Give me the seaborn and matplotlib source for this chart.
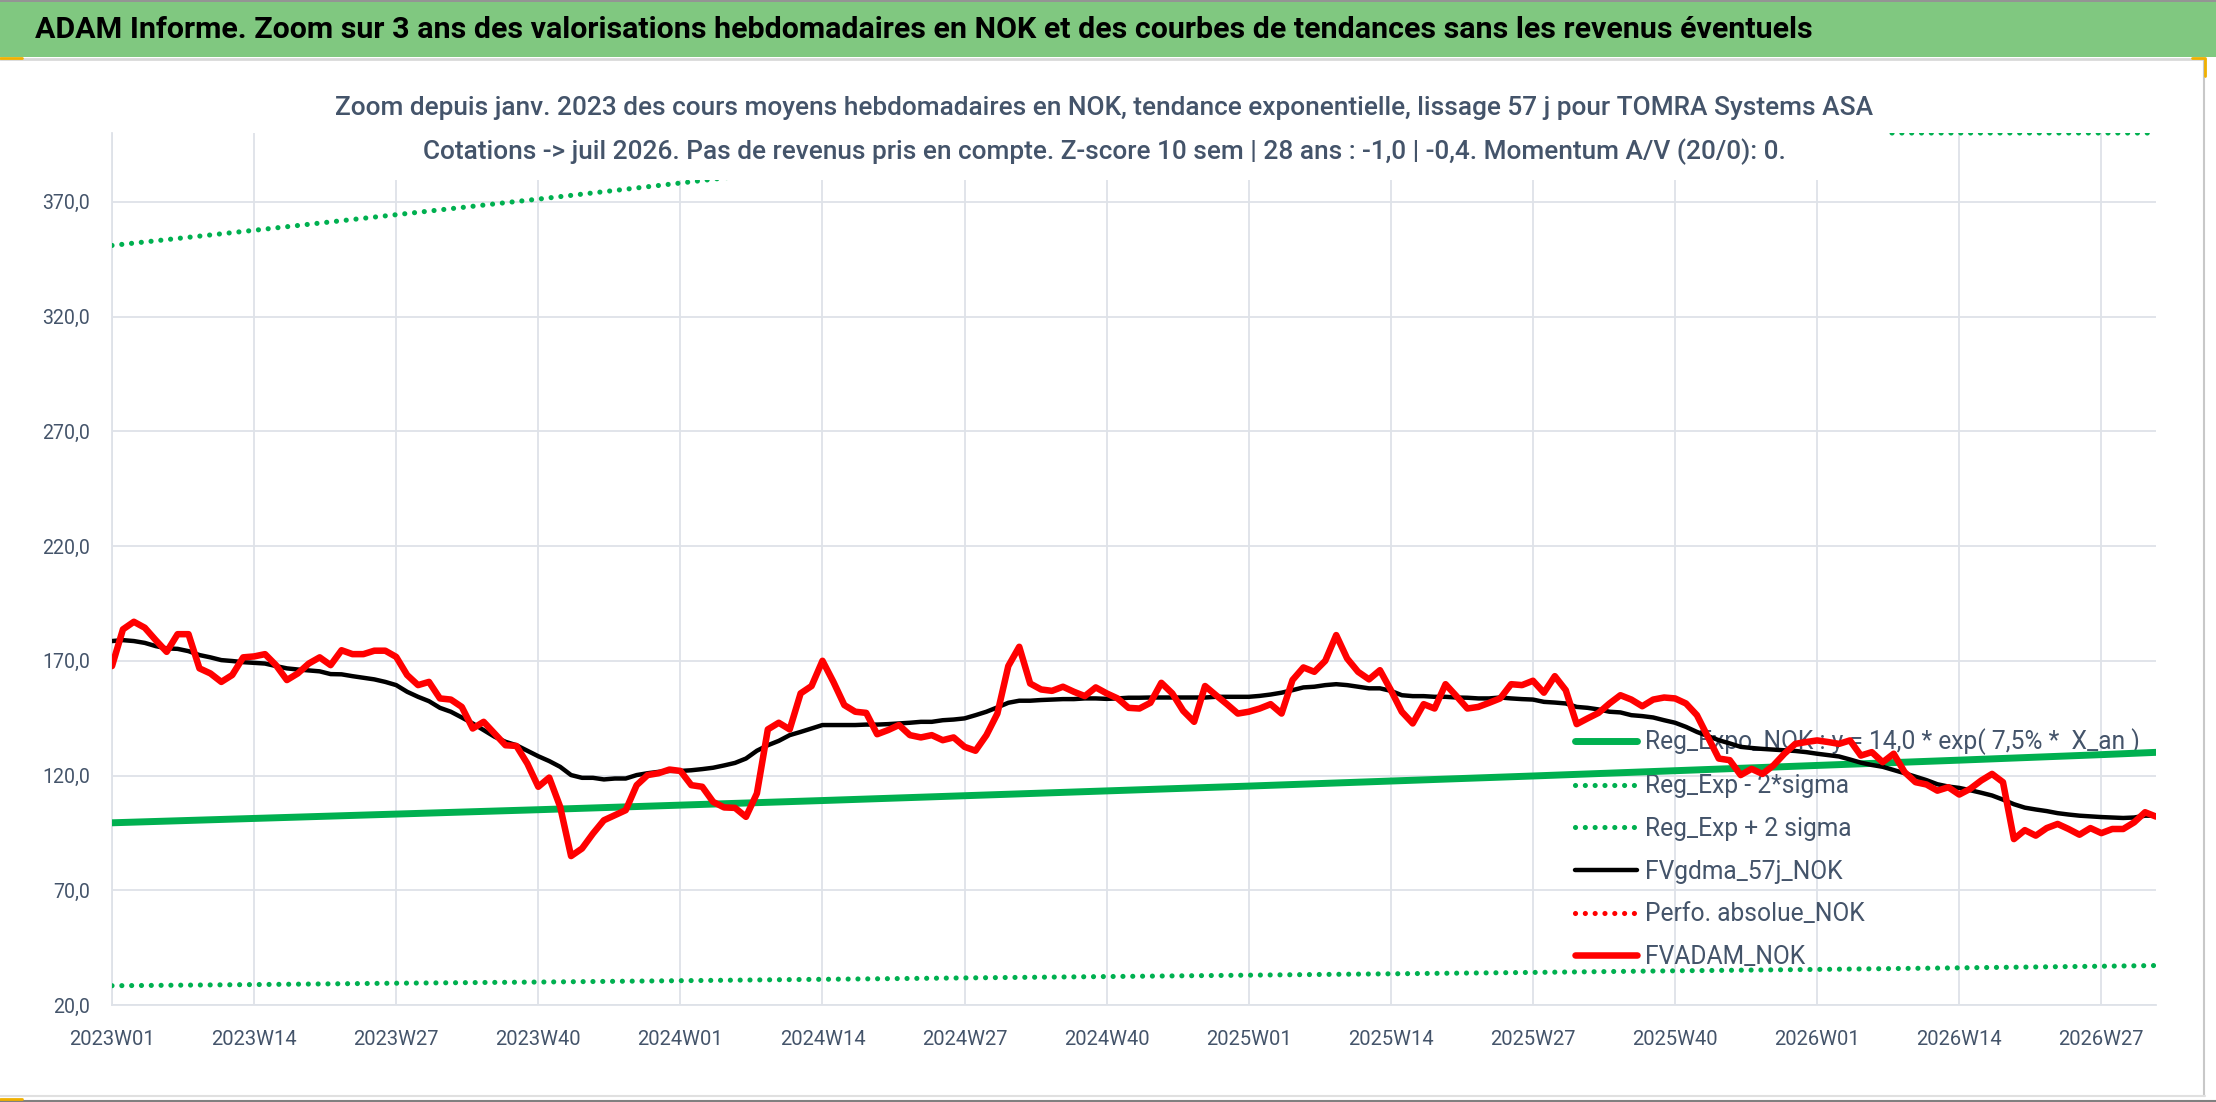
import numpy as np
import pandas as pd
import matplotlib
matplotlib.use("Agg")
import matplotlib.pyplot as plt
import seaborn as sns
from matplotlib.patches import Rectangle
from matplotlib.lines import Line2D

# ---------------- data ----------------
week_labels = ([f"2023W{w:02d}" for w in range(1, 53)]
               + [f"2024W{w:02d}" for w in range(1, 53)]
               + [f"2025W{w:02d}" for w in range(1, 53)]
               + [f"2026W{w:02d}" for w in range(1, 33)])

tick_labels = ["2023W01", "2023W14", "2023W27", "2023W40", "2024W01", "2024W14",
               "2024W27", "2024W40", "2025W01", "2025W14", "2025W27", "2025W40",
               "2026W01", "2026W14", "2026W27"]
y_ticks = [20, 70, 120, 170, 220, 270, 320, 370]

fvadam_nok = [
    167.7, 183.7, 187.0, 184.4, 179.0, 173.9, 181.6, 181.6, 166.7, 164.5,
    160.8, 163.8, 171.5, 171.9, 172.9, 168.1, 161.6, 164.5, 168.8, 171.5,
    168.1, 174.6, 172.9, 172.9, 174.4, 174.4, 171.7, 163.8, 159.4, 160.8,
    153.6, 153.1, 149.9, 140.5, 143.4, 138.3, 133.2, 132.9, 125.2, 115.1,
    119.1, 106.4, 84.9, 88.2, 94.7, 100.5, 102.7, 104.9, 115.8, 120.2,
    121.0, 122.6, 122.0, 115.8, 115.1, 108.5, 106.1, 105.9, 102.0, 112.2,
    140.1, 143.0, 140.1, 155.8, 159.0, 170.0, 160.8, 150.7, 147.8, 147.3,
    138.0, 139.8, 142.0, 137.6, 136.6, 137.6, 135.4, 136.6, 132.5, 130.8,
    137.6, 147.0, 167.7, 176.1, 160.1, 157.5, 156.9, 158.7, 156.5, 154.6,
    158.4, 155.8, 153.6, 149.5, 149.2, 151.7, 160.4, 155.8, 148.2, 143.4,
    159.0, 155.0, 151.1, 147.0, 147.8, 149.2, 151.1, 147.0, 161.6, 167.1,
    165.2, 170.0, 181.2, 171.0, 165.2, 161.9, 165.9, 157.2, 147.8, 142.7,
    151.1, 149.2, 159.8, 154.6, 149.2, 149.9, 151.7, 153.6, 159.8, 159.4,
    161.3, 156.1, 163.3, 157.2, 142.4, 144.9, 147.3, 151.4, 155.0, 153.1,
    150.2, 153.1, 154.0, 153.6, 151.4, 146.3, 136.9, 127.4, 126.7, 120.2,
    122.9, 120.7, 124.4, 129.5, 133.8, 134.6, 135.3, 134.6, 133.8, 135.3,
    128.7, 130.2, 125.8, 129.5, 121.5, 117.1, 116.1, 113.4, 114.9, 111.7,
    114.2, 117.8, 120.7, 117.1, 92.3, 96.2, 93.8, 97.1, 98.9, 96.7,
    94.2, 97.1, 94.9, 96.7, 96.7, 99.6, 104.0, 102.1,
]

fvgdma_57j_nok = [
    178.6, 179.0, 178.6, 177.8, 176.4, 175.4, 175.2, 174.2, 172.5, 171.5,
    170.3, 169.9, 169.4, 169.1, 168.8, 167.7, 166.7, 166.2, 165.8, 165.4,
    164.2, 164.1, 163.3, 162.6, 161.9, 160.8, 159.4, 156.5, 154.3, 152.4,
    149.5, 147.8, 145.3, 142.7, 139.8, 136.9, 134.7, 133.2, 130.8, 128.4,
    126.3, 123.8, 120.2, 119.0, 119.0, 118.3, 118.7, 118.7, 120.2, 121.0,
    121.6, 122.0, 122.0, 122.3, 122.8, 123.4, 124.4, 125.5, 127.4, 130.8,
    133.2, 135.1, 137.6, 139.0, 140.5, 142.0, 142.0, 142.0, 142.0, 142.2,
    142.2, 142.4, 142.7, 143.0, 143.4, 143.4, 144.1, 144.4, 144.9, 146.3,
    147.8, 149.7, 151.7, 152.6, 152.6, 152.9, 153.1, 153.3, 153.3, 153.6,
    153.6, 153.4, 153.6, 153.9, 153.9, 154.0, 154.0, 154.0, 154.0, 154.0,
    154.0, 154.3, 154.3, 154.3, 154.3, 154.7, 155.3, 156.1, 157.2, 158.4,
    158.7, 159.4, 159.8, 159.4, 158.7, 158.0, 158.0, 156.9, 155.0, 154.6,
    154.6, 154.3, 154.3, 154.0, 153.9, 153.6, 153.6, 154.0, 153.6, 153.3,
    153.1, 152.1, 151.8, 151.4, 149.9, 149.5, 148.8, 147.8, 147.5, 146.3,
    145.9, 145.3, 144.1, 143.0, 141.2, 139.0, 137.2, 135.4, 134.0, 132.5,
    132.0, 131.6, 131.3, 131.0, 130.7, 130.2, 129.5, 128.9, 128.3, 127.0,
    125.6, 124.6, 123.8, 122.4, 121.0, 119.5, 118.0, 116.2, 115.2, 114.6,
    113.6, 112.5, 111.3, 109.5, 107.5, 106.0, 105.2, 104.5, 103.6, 103.0,
    102.5, 102.2, 101.9, 101.7, 101.5, 101.7, 102.5, 102.5,
]

trend_weeks = tick_labels + ["2026W32"]
reg_expo_nok = [99.4, 101.3, 103.2, 105.1, 107.1, 109.1, 111.2, 113.3, 115.4,
                117.6, 119.8, 122.1, 124.4, 126.7, 129.1, 130.1]
reg_exp_minus_2sigma = [28.4, 28.9, 29.5, 30.0, 30.6, 31.2, 31.8, 32.4, 33.0,
                        33.6, 34.2, 34.9, 35.5, 36.2, 36.9, 37.2]
reg_exp_plus_2sigma = [351.0, 357.6, 364.4, 371.2, 378.2, 385.4, 392.6, 400.0, 407.6,
                       415.3, 423.1, 431.1, 439.2, 447.5, 456.0, 459.3]
perfo_absolue_nok = []   # no point inside the zoom window

series_names = ["Reg_Expo_NOK : y = 14,0 * exp( 7,5% *  X_an )", "Reg_Exp - 2*sigma",
                "Reg_Exp + 2 sigma", "FVgdma_57j_NOK", "Perfo. absolue_NOK", "FVADAM_NOK"]

TITLE = ("ADAM Informe. Zoom sur 3 ans des valorisations hebdomadaires en NOK et des "
         "courbes de tendances sans les revenus éventuels")
SUB1 = ("Zoom depuis janv. 2023 des cours moyens hebdomadaires en NOK, tendance "
        "exponentielle, lissage 57 j pour TOMRA Systems ASA")
SUB2 = ("Cotations -> juil 2026. Pas de revenus pris en compte. Z-score 10 sem | 28 ans : "
        "-1,0 | -0,4. Momentum A/V (20/0): 0.")

# ---------------- style ----------------
W, H, DPI = 2216, 1102, 100
Y_MIN, Y_MAX = 20, 400
GREEN, RED, TXT, GRID = "#00B050", "#FF0000", "#44546A", "#DEE2E8"

sns.set_theme(style="white")
plt.rcParams["font.family"] = ["Roboto", "DejaVu Sans"]

fig = plt.figure(figsize=(W / DPI, H / DPI), dpi=DPI)
fig.patch.set_facecolor("white")
ax = fig.add_axes([112 / W, 1 - 1005 / H, (2156 - 112) / W, (1005 - 133) / H])
ax.set_facecolor("white")

pos_of = {lab: i for i, lab in enumerate(week_labels)}
df = pd.DataFrame({"pos": np.arange(len(week_labels)), "week": week_labels,
                   "adam": fvadam_nok, "gdma": fvgdma_57j_nok})
tr = pd.DataFrame({"pos": [pos_of[w] for w in trend_weeks], "reg": reg_expo_nok,
                   "lo": reg_exp_minus_2sigma, "hi": reg_exp_plus_2sigma})
tr["hi_shown"] = tr["hi"].clip(upper=Y_MAX)   # Excel flattens the band at the axis top

dot = (0, (0.01, 1.9))
handles = []
sns.lineplot(data=tr, x="pos", y="reg", ax=ax, color=GREEN, linewidth=5.0,
             solid_capstyle="round", zorder=3, legend=False)
handles.append(ax.lines[-1])
sns.lineplot(data=tr, x="pos", y="lo", ax=ax, color=GREEN, linewidth=3.7,
             linestyle=dot, dash_capstyle="round", zorder=3, legend=False)
handles.append(ax.lines[-1])
sns.lineplot(data=tr, x="pos", y="hi_shown", ax=ax, color=GREEN, linewidth=3.7,
             linestyle=dot, dash_capstyle="round", zorder=3, legend=False)
handles.append(ax.lines[-1])
sns.lineplot(data=df, x="pos", y="gdma", ax=ax, color="black", linewidth=3.2,
             solid_joinstyle="round", zorder=4, legend=False)
handles.append(ax.lines[-1])
perfo_line, = ax.plot(perfo_absolue_nok, perfo_absolue_nok, color=RED, linewidth=3.7,
                      linestyle=dot, dash_capstyle="round", zorder=4)
handles.append(perfo_line)
sns.lineplot(data=df, x="pos", y="adam", ax=ax, color=RED, linewidth=4.7,
             solid_joinstyle="round", solid_capstyle="round", zorder=5, legend=False)
handles.append(ax.lines[-1])

ax.set_xlim(0, len(week_labels) - 1)
ax.set_ylim(Y_MIN, Y_MAX)
ax.set_xticks([pos_of[t] for t in tick_labels])
ax.set_xticklabels(tick_labels)
ax.set_yticks(y_ticks)
ax.set_yticklabels([f"{v:.1f}".replace(".", ",") for v in y_ticks])
ax.set_xlabel("")
ax.set_ylabel("")
ax.set_axisbelow(True)
ax.grid(True, color=GRID, linewidth=1.3)
for s in ["top", "right"]:
    ax.spines[s].set_visible(False)
for s in ["left", "bottom"]:
    ax.spines[s].set_color(GRID)
    ax.spines[s].set_linewidth(1.3)
ax.tick_params(axis="x", length=6, width=1.3, color=GRID, pad=12, labelsize=14,
               labelcolor=TXT)
ax.tick_params(axis="y", length=0, pad=16, labelsize=14, labelcolor=TXT)

# ---------------- frame & decorations ----------------
fig.add_artist(Rectangle((0, 1 - 57 / H), 1, 55 / H, transform=fig.transFigure,
                         facecolor="#80C880", edgecolor="none", zorder=0.1))
fig.add_artist(Line2D([0, 1], [1 - 0.8 / H, 1 - 0.8 / H], transform=fig.transFigure,
                      color="#7F7F7F", linewidth=1.2, zorder=0.2))
fig.add_artist(Line2D([0, 2205 / W], [1 - 59 / H, 1 - 59 / H], transform=fig.transFigure,
                      color="#D9D9D9", linewidth=2.0, zorder=0.2))
fig.add_artist(Line2D([2204 / W, 2204 / W], [1 - 59 / H, 1 - 1096 / H],
                      transform=fig.transFigure, color="#C8C8C8", linewidth=1.5, zorder=0.2))
fig.add_artist(Line2D([0, 2205 / W], [1 - 1095.5 / H, 1 - 1095.5 / H],
                      transform=fig.transFigure, color="#E0E0E0", linewidth=1.5, zorder=0.2))
fig.add_artist(Line2D([0, 1], [1 - 1100.5 / H, 1 - 1100.5 / H], transform=fig.transFigure,
                      color="#808080", linewidth=1.5, zorder=0.2))
fig.add_artist(Line2D([0, 22 / W], [1 - 1099 / H, 1 - 1099 / H], transform=fig.transFigure,
                      color="#F0B000", linewidth=2.0, zorder=0.3))
fig.add_artist(Line2D([0, 22 / W], [1 - 57.5 / H, 1 - 57.5 / H], transform=fig.transFigure,
                      color="#F0B000", linewidth=2.0, zorder=0.3))
fig.add_artist(Line2D([2192 / W, 2205 / W, 2205 / W], [1 - 57.5 / H, 1 - 57.5 / H, 1 - 76 / H],
                      transform=fig.transFigure, color="#F0B000", linewidth=2.0, zorder=0.3))

# white box behind the chart title (hides what lies below it, as in Excel)
fig.add_artist(Rectangle((321 / W, 1 - 180 / H), (1887 - 321) / W, 105 / H,
                         transform=fig.transFigure, facecolor="white",
                         edgecolor="none", zorder=6))

t_title = fig.text(35 / W, 1 - 30 / H, TITLE, ha="left", va="center", fontsize=19,
                   fontweight="bold", color="black", zorder=7)
t_sub1 = fig.text(1104 / W, 1 - 108 / H, SUB1, ha="center", va="center", fontsize=17,
                  fontweight="medium", color=TXT, zorder=7)
t_sub2 = fig.text(1104 / W, 1 - 152 / H, SUB2, ha="center", va="center", fontsize=17,
                  fontweight="medium", color=TXT, zorder=7)

fig.canvas.draw()
r = fig.canvas.get_renderer()


def fit(t, target_px):
    w = t.get_window_extent(r).width
    t.set_fontsize(t.get_fontsize() * target_px / w)


fit(t_title, 1784)
fit(t_sub1, 1543)
t_sub2.set_fontsize(t_sub1.get_fontsize())

# tick label sizes
xl = ax.get_xticklabels()[0]
xfs = 14 * 86 / xl.get_window_extent(r).width
yl = ax.get_yticklabels()[-1]
yfs = 14 * 48 / yl.get_window_extent(r).width
ax.tick_params(axis="x", labelsize=xfs)
ax.tick_params(axis="y", labelsize=yfs)


# ---------------- legend ----------------
def make_legend(fs, spacing, anchor):
    lg = ax.legend(handles, series_names, loc="upper left", bbox_to_anchor=anchor,
                   bbox_transform=fig.transFigure, frameon=False, fontsize=fs,
                   labelcolor=TXT, handlelength=62 / (fs * DPI / 72),
                   handletextpad=8 / (fs * DPI / 72), labelspacing=spacing,
                   borderpad=0, borderaxespad=0)
    lg.set_zorder(2.5)
    return lg


fs, spacing, anchor = 16.0, 0.6, (1575 / W, 1 - 726 / H)
leg = make_legend(fs, spacing, anchor)
fig.canvas.draw()
w0 = leg.get_texts()[0].get_window_extent(r).width
fs = fs * 494 / w0
leg.remove()
leg = make_legend(fs, spacing, anchor)
fig.canvas.draw()
cs = [(t.get_window_extent(r).y0 + t.get_window_extent(r).y1) / 2 for t in leg.get_texts()]
pitch = (cs[0] - cs[-1]) / (len(cs) - 1)
spacing = spacing + (43 - pitch) / (fs * DPI / 72)
leg.remove()
leg = make_legend(fs, spacing, anchor)
fig.canvas.draw()
b0 = leg.get_texts()[0].get_window_extent(r)
dy = (H - 742) - (b0.y0 + b0.y1) / 2
dx = 1645 - b0.x0
anchor = (anchor[0] + dx / W, anchor[1] + dy / H)
leg.remove()
leg = make_legend(fs, spacing, anchor)

fig.savefig("out.png", dpi=DPI, facecolor="white")
